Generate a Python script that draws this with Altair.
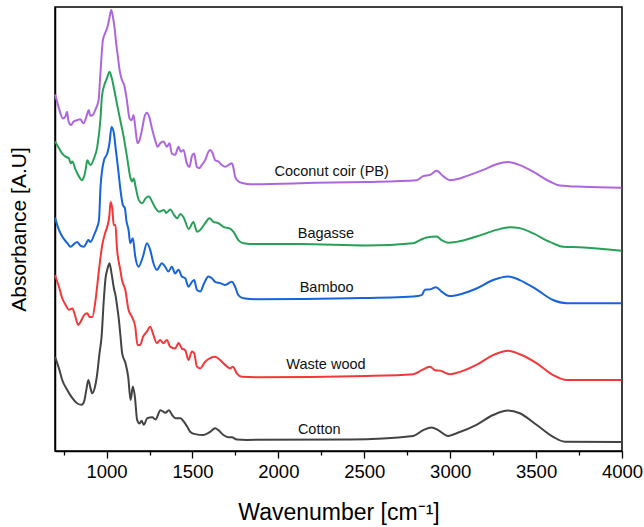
import altair as alt
import pandas as pd

# ---- data ----
coconut_wn = [700,715,731,746,760,770,779,793,808,828,847,857,866,886,896,905,921,934,954,963,
              979,992,1006,1018,1027,1037,1047,1056,1066,1076,1089,1103,1118,1134,1147,1157,1167,1180,1192,1206,
              1221,1235,1248,1264,1283,1297,1312,1332,1351,1366,1380,1399,1419,1432,1448,1467,1483,1496,1510,1525,
              1541,1554,1574,1593,1603,1618,1632,1651,1671,1690,1709,1729,1739,1748,1768,1797,1836,2223,2514,2805,
              2843,2883,2921,2959,2998,3037,3095,3192,3270,3337,3405,3483,3580,3638,3773,3997]
coconut_abs = [80.3,78.3,76.1,74.9,75.3,76.4,74.2,73.4,74.2,74.5,74.7,74.2,73.8,75.7,76.8,75.5,75.7,76.8,79.1,84.3,
               92.6,94.1,95.6,97.8,99.3,97.8,95.2,91.8,88.8,85.8,83.6,82.4,79.1,74.9,74.5,75.7,73.0,69.3,70.0,72.3,
               75.3,76.2,75.3,72.7,70.0,68.5,69.3,69.7,68.5,69.3,67.0,66.7,68.5,67.4,67.8,64.8,64.0,66.3,67.0,64.0,
               63.7,64.4,65.5,67.4,67.8,67.0,65.5,65.2,64.4,64.0,64.4,64.8,63.7,61.8,60.7,60.3,60.1,60.4,60.6,61.0,
               61.9,62.2,63.1,61.9,61.0,61.2,61.9,63.3,64.6,65.1,64.4,62.9,60.7,59.8,59.5,59.3]

bagasse_wn = [700,723,742,762,781,791,801,820,840,855,869,878,888,898,907,927,946,965,973,987,
              1002,1017,1031,1045,1060,1080,1100,1120,1140,1149,1159,1169,1188,1208,1227,1247,1266,1285,1305,1334,
              1347,1372,1392,1411,1430,1450,1478,1506,1526,1545,1574,1599,1622,1651,1680,1719,1738,1767,1797,1874,
              2126,2514,2785,2824,2863,2921,2950,2988,3037,3153,3270,3347,3405,3483,3580,3657,3754,3997]
bagasse_abs = [69.7,68.2,67.0,66.3,65.9,64.8,65.2,63.3,61.8,61.0,61.8,63.3,65.5,64.8,64.4,65.9,68.5,75.0,79.8,82.4,
               83.9,85.4,83.9,81.3,78.3,74.5,70.7,66.0,61.4,60.7,61.4,59.5,56.5,55.8,56.9,57.3,56.1,54.7,53.9,54.3,
               53.6,54.4,53.2,52.4,53.4,52.5,50.0,51.6,49.4,49.8,51.3,52.4,51.6,51.3,50.5,50.1,49.4,47.5,46.8,46.6,
               46.6,46.3,46.8,47.5,48.1,48.3,47.5,46.9,47.1,48.3,49.8,50.4,50.2,49.0,47.1,46.0,45.9,45.1]

bamboo_wn = [700,723,742,772,791,810,830,849,869,882,894,907,927,946,956,965,985,1004,1017,1029,
             1043,1052,1068,1081,1095,1107,1115,1128,1138,1153,1167,1186,1212,1235,1254,1273,1293,1322,1341,1360,
             1380,1399,1419,1438,1458,1477,1497,1510,1526,1545,1568,1593,1613,1632,1661,1690,1729,1748,1767,1797,
             1874,2417,2785,2834,2853,2882,2917,2950,2994,3037,3153,3250,3337,3405,3502,3599,3677,3997]
bamboo_abs = [52.5,49.8,48.3,46.8,46.0,46.6,47.1,46.2,46.0,46.8,47.5,47.1,48.6,50.5,52.0,59.5,65.5,67.0,69.3,73.0,
              71.5,68.5,63.3,58.8,55.4,54.7,52.0,49.8,46.8,47.9,43.8,41.5,43.8,46.8,45.3,42.3,40.8,42.3,41.5,40.4,
              41.5,40.0,40.8,39.3,38.9,37.0,38.1,38.5,36.3,35.9,37.8,39.3,38.9,38.1,37.8,37.4,38.1,37.0,35.1,34.4,
              34.2,34.4,34.8,35.1,36.3,36.4,36.9,35.9,34.9,35.1,36.6,38.5,39.3,38.5,36.4,34.0,33.3,33.3]

waste_wn = [700,723,742,762,781,801,816,835,849,869,888,901,917,936,956,975,991,1004,1017,1023,
            1033,1042,1052,1060,1080,1090,1109,1128,1148,1167,1180,1196,1212,1235,1254,1273,1293,1312,1331,1351,
            1370,1399,1419,1438,1458,1477,1497,1510,1526,1545,1574,1603,1632,1661,1690,1719,1735,1758,1787,1874,
            2514,2785,2834,2882,2911,2940,2998,3037,3153,3250,3337,3405,3502,3599,3677,3997]
waste_abs = [39.6,37.0,34.4,32.9,31.8,32.1,30.6,28.4,29.1,30.6,31.0,30.2,30.2,34.0,40.8,46.4,49.0,50.5,53.2,56.1,
             54.7,50.9,50.9,46.0,40.8,38.5,36.3,31.8,30.2,28.0,23.9,23.9,25.7,26.9,28.0,26.1,24.3,25.0,24.3,25.0,
             23.5,23.1,24.3,23.1,22.7,20.5,22.4,22.0,19.0,18.6,20.1,20.9,21.2,20.5,19.4,18.6,19.0,17.5,16.7,16.6,
             16.9,17.3,18.2,19.0,18.2,18.1,17.3,17.6,19.4,21.6,22.6,21.8,19.8,17.1,16.0,16.0]

cotton_wn = [700,723,742,772,801,830,855,869,882,894,907,917,933,946,959,971,984,994,1004,1017,
             1029,1043,1052,1062,1072,1081,1091,1110,1126,1140,1153,1165,1178,1192,1204,1217,1237,1266,1285,1314,
             1343,1363,1382,1401,1430,1450,1469,1488,1516,1564,1603,1632,1651,1680,1709,1729,1758,1816,2417,2785,
             2843,2892,2930,2988,3037,3153,3250,3337,3405,3502,3599,3667,3997]
cotton_abs = [21.2,18.6,16.0,13.7,11.9,10.7,10.4,11.1,13.7,16.0,14.1,13.0,14.5,17.5,22.0,25.7,34.0,38.9,40.8,42.3,
              40.0,36.6,35.1,32.5,29.5,25.9,22.0,19.8,16.7,11.5,14.5,12.2,7.0,6.2,6.8,5.9,7.4,7.6,7.1,9.2,
              8.6,9.2,8.1,7.4,7.4,6.6,5.5,4.3,3.8,3.6,4.3,5.1,4.7,3.6,3.1,3.1,2.6,2.5,2.6,3.4,
              4.7,5.3,4.7,3.4,4.0,5.9,8.1,9.1,8.5,5.9,3.2,2.1,2.0]

series_names = ["Coconut coir (PB)", "Bagasse", "Bamboo", "Waste wood", "Cotton"]
series_colors = ["#AE66DF", "#27A157", "#1663DA", "#F2383A", "#434343"]
label_wn = [2310, 2277, 2281, 2277, 2238]
label_abs = [62.9, 48.9, 36.7, 19.4, 4.7]

x_ticks = list(range(750, 4001, 250))

# ---- build tables ----
frames = []
for name, wn, ab in [
    ("Coconut coir (PB)", coconut_wn, coconut_abs),
    ("Bagasse", bagasse_wn, bagasse_abs),
    ("Bamboo", bamboo_wn, bamboo_abs),
    ("Waste wood", waste_wn, waste_abs),
    ("Cotton", cotton_wn, cotton_abs),
]:
    frames.append(pd.DataFrame({"wn": wn, "abs": ab, "sample": name}))
df = pd.concat(frames, ignore_index=True)
labels = pd.DataFrame({"wn": label_wn, "abs": label_abs, "sample": series_names})

FONT = "Liberation Sans"

xscale = alt.Scale(domain=[700, 4000], nice=False, zero=False)
yscale = alt.Scale(domain=[0, 100], nice=False, zero=False)

lines = alt.Chart(df).mark_line(strokeWidth=2, interpolate="monotone").encode(
    x=alt.X("wn:Q", scale=xscale,
            axis=alt.Axis(values=x_ticks,
                          labelExpr="datum.value % 500 === 0 ? datum.label : ''",
                          format="d",
                          tickSize={"condition": {"test": "datum.value % 500 === 0", "value": 7}, "value": 4},
                          tickColor="black", tickWidth=1.3,
                          domainColor="black", domainWidth=1.5,
                          labelFont=FONT, labelFontSize=18.5, labelColor="black",
                          labelFlush=False, labelOverlap=False, labelPadding=4,
                          title="Wavenumber [cm⁻¹]", titleFont=FONT, titleFontSize=23,
                          titleFontWeight="normal", titleColor="black", titlePadding=21,
                          grid=False)),
    y=alt.Y("abs:Q", scale=yscale,
            axis=alt.Axis(labels=False, ticks=False, grid=False,
                          domainColor="black", domainWidth=1.5,
                          title="Absorbance [A.U]", titleFont=FONT, titleFontSize=21,
                          titleFontWeight="normal", titleColor="black", titlePadding=26)),
    color=alt.Color("sample:N", scale=alt.Scale(domain=series_names, range=series_colors), legend=None),
    detail="sample:N",
)

texts = alt.Chart(labels).mark_text(font=FONT, fontSize=14.5, color="#111111", align="center", baseline="middle").encode(
    x=alt.X("wn:Q", scale=xscale),
    y=alt.Y("abs:Q", scale=yscale),
    text="sample:N",
)

chart = alt.layer(lines, texts).properties(
    width=567, height=444,
    autosize=alt.AutoSizeParams(type="none"),
    padding={"left": 55, "top": 7, "right": 22, "bottom": 76},
    background="white",
).configure_view(stroke="black", strokeWidth=1.5)

chart.save("out.html", embed_options={"renderer": "svg", "actions": False})
